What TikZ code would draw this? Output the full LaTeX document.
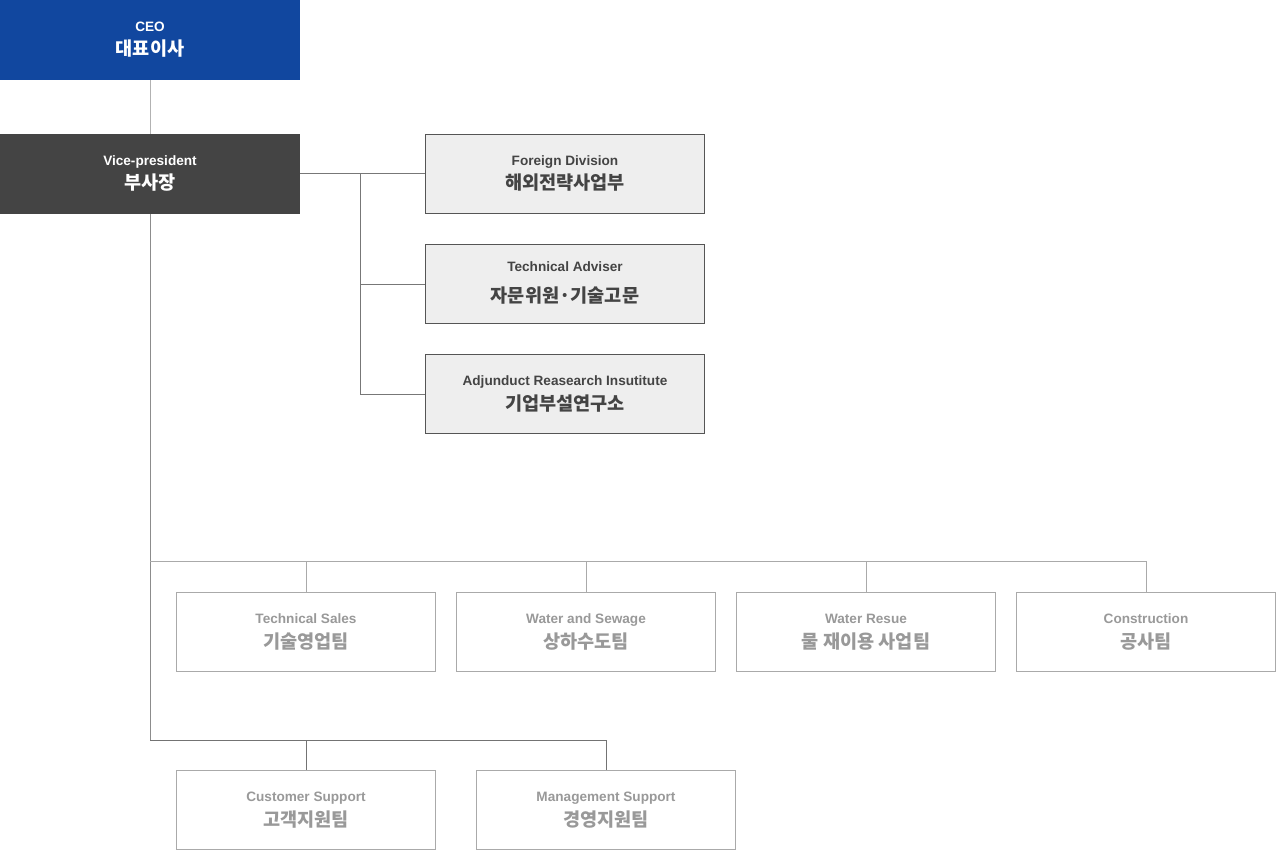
\documentclass[tikz,border=0pt]{standalone}
\usepackage{fontspec}
\setmainfont{Liberation Sans}
\newfontfamily\kr{Noto Sans CJK KR}
\usetikzlibrary{positioning}
\definecolor{ceoblue}{HTML}{11479F}
\definecolor{vpgray}{HTML}{444444}
\definecolor{midfill}{HTML}{EEEEEE}
\definecolor{midline}{HTML}{555555}
\definecolor{lowline}{HTML}{AAAAAA}
\definecolor{lowtext}{HTML}{999999}
\definecolor{darktext}{HTML}{444444}
\tikzset{
  box/.style={minimum width=#1pt, minimum height=80pt, inner sep=0pt, outer sep=0pt},
  ceobox/.style={box=300, fill=ceoblue},
  vpbox/.style={box=300, fill=vpgray},
  midbox/.style={box=279, minimum height=79pt, fill=midfill, draw=midline, line width=1pt},
  lowbox/.style={box=259, minimum height=79pt, fill=white, draw=lowline, line width=1pt},
  en/.style={font=\bfseries\fontsize{13.6}{14}\selectfont, inner sep=0pt, anchor=base},
  ko/.style={font=\kr\bfseries\fontsize{18.6}{19}\selectfont, inner sep=0pt, anchor=base},
  conn/.style={line width=1pt},
}
\begin{document}
\begin{tikzpicture}[x=1pt,y=-1pt]
\useasboundingbox (0,0) rectangle (1276,850);
% connectors
\draw[conn, color=lightgray!80!gray] (150,80) coordinate (c1) -- (150,134) coordinate (c2);
\draw[conn, color=midline!80!white] (300,174) coordinate (vpR) -- (360,174) coordinate (j1);
\draw[conn, color=midline!80!white] (j1) -- (360,394) coordinate (j3);
\draw[conn, color=midline!80!white] (j1) -- (425,174);
\draw[conn, color=midline!80!white] (360,284) coordinate (j2) -- (425,284);
\draw[conn, color=midline!80!white] (j3) -- (425,394);
\draw[conn, color=gray!90] (150,214) coordinate (vpB) -- (150,740) coordinate (b2);
\draw[conn, color=lowline] (150,561) coordinate (b1) -- (1146,561) coordinate (b1e);
\foreach \x in {306,586,866,1146} \draw[conn, color=lowline] (\x,561) -- (\x,592);
\draw[conn, color=gray!110] (b2) -- (606,740) coordinate (b2e);
\draw[conn, color=gray!110] (306,740) -- (306,770);
\draw[conn, color=gray!110] (b2e) -- (606,770);
% top boxes
\node[ceobox] (ceo) at (150,40) {};
\node[en, text=white] (ceoEn) at (150,31.5) {CEO};
\node[ko, text=white] (ceoKo) at (150,56) {대표이사};
\node[vpbox] (vp) at (150,174) {};
\node[en, text=white] (vpEn) at (150,165.5) {Vice-president};
\node[ko, text=white] (vpKo) at (150,190) {부사장};
% middle boxes
\node[midbox] (fd) at (565,174) {};
\node[en, text=darktext] (fdEn) at (565,165.5) {Foreign Division};
\node[ko, text=darktext] (fdKo) at (565,190) {해외전략사업부};
\node[midbox] (ta) at (565,284) {};
\node[en, text=darktext] (taEn) at (565,272) {Technical Adviser};
\node[ko, text=darktext] (taKo) at (565,302) {자문위원·기술고문};
\node[midbox] (ar) at (565,394) {};
\node[en, text=darktext] (arEn) at (565,385.5) {Adjunduct Reasearch Insutitute};
\node[ko, text=darktext] (arKo) at (565,410.5) {기업부설연구소};
% lower boxes
\node[lowbox] (ts) at (306,632) {};
\node[en, text=lowtext] (tsEn) at (306,623.5) {Technical Sales};
\node[ko, text=lowtext] (tsKo) at (306,648) {기술영업팀};
\node[lowbox] (ws) at (586,632) {};
\node[en, text=lowtext] (wsEn) at (586,623.5) {Water and Sewage};
\node[ko, text=lowtext] (wsKo) at (586,648) {상하수도팀};
\node[lowbox] (wr) at (866,632) {};
\node[en, text=lowtext] (wrEn) at (866,623.5) {Water Resue};
\node[ko, text=lowtext] (wrKo) at (866,648) {물 재이용 사업팀};
\node[lowbox] (co) at (1146,632) {};
\node[en, text=lowtext] (coEn) at (1146,623.5) {Construction};
\node[ko, text=lowtext] (coKo) at (1146,648) {공사팀};
\node[lowbox] (cs) at (306,810) {};
\node[en, text=lowtext] (csEn) at (306,801.5) {Customer Support};
\node[ko, text=lowtext] (csKo) at (306,826) {고객지원팀};
\node[lowbox] (ms) at (606,810) {};
\node[en, text=lowtext] (msEn) at (606,801.5) {Management Support};
\node[ko, text=lowtext] (msKo) at (606,826) {경영지원팀};
\end{tikzpicture}
\end{document}
